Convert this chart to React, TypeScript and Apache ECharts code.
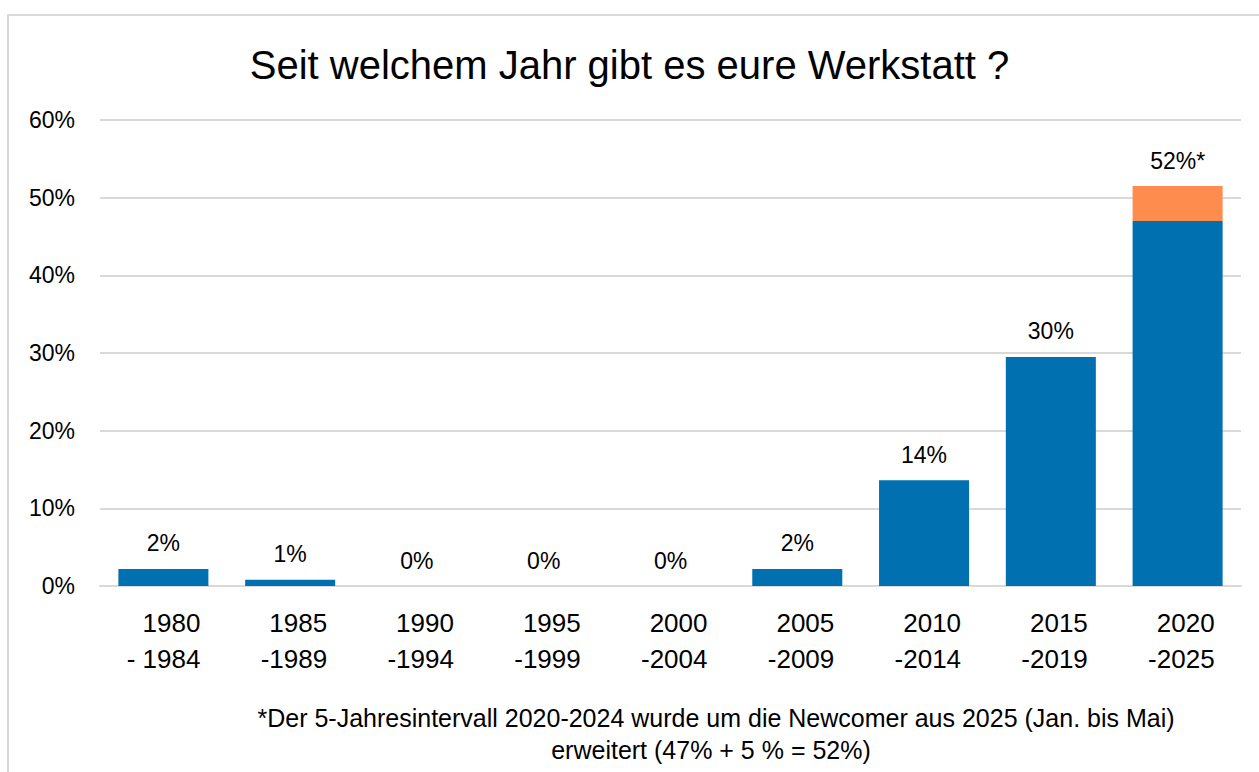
import React, { useEffect, useRef } from "react";
import * as echarts from "echarts";

const categories = [
  "1980\n- 1984",
  "1985\n-1989",
  "1990\n-1994",
  "1995\n-1999",
  "2000\n-2004",
  "2005\n-2009",
  "2010\n-2014",
  "2015\n-2019",
  "2020\n-2025",
];
const baseValues = [2.2, 0.8, 0, 0, 0, 2.2, 13.6, 29.5, 47];
const extraValues = [null, null, null, null, null, null, null, null, 4.5];
const baseLabels = ["2%", "1%", "0%", "0%", "0%", "2%", "14%", "30%", ""];
const extraLabels = ["", "", "", "", "", "", "", "", "52%*"];
const yTicks = [0, 10, 20, 30, 40, 50, 60];

const title = "Seit welchem Jahr gibt es eure Werkstatt ?";
const footnote1 = "*Der 5-Jahresintervall 2020-2024 wurde um die Newcomer aus 2025 (Jan. bis Mai)";
const footnote2 = "erweitert (47% + 5 % = 52%)";

const FONT = "'Liberation Sans', Arial, sans-serif";

export default function App() {
  const ref = useRef<HTMLDivElement>(null);
  useEffect(() => {
    if (!ref.current) return;
    const chart = echarts.init(ref.current, null, { renderer: "svg" });
    chart.setOption({
      animation: false,
      backgroundColor: "#ffffff",
      title: {
        text: title,
        left: "center",
        top: 40,
        textStyle: { fontFamily: FONT, fontSize: 40, fontWeight: "normal", color: "#000" },
      },
      grid: { left: 100, right: 18, top: 120, bottom: 186, containLabel: false },
      xAxis: {
        type: "category",
        data: categories,
        axisLine: { show: true, lineStyle: { color: "#d9d9d9", width: 2 } },
        axisTick: { show: false },
        axisLabel: {
          fontFamily: FONT,
          fontSize: 26,
          color: "#000",
          align: "right",
          lineHeight: 36,
          margin: 19,
          padding: [0, -37, 0, 0],
          interval: 0,
        },
      },
      yAxis: {
        type: "value",
        min: 0,
        max: 60,
        interval: 10,
        axisLine: { show: false },
        axisTick: { show: false },
        splitLine: { lineStyle: { color: "#d9d9d9", width: 2 } },
        axisLabel: {
          fontFamily: FONT,
          fontSize: 23,
          color: "#000",
          margin: 25,
          formatter: (v: number) => (yTicks.includes(v) ? v + "%" : ""),
        },
      },
      series: [
        {
          type: "bar",
          stack: "a",
          data: baseValues,
          barCategoryGap: "29%",
          itemStyle: { color: "#0070B0" },
          label: {
            show: true,
            position: "top",
            distance: 14,
            fontFamily: FONT,
            fontSize: 23,
            color: "#000",
            formatter: (p: any) => baseLabels[p.dataIndex],
          },
        },
        {
          type: "bar",
          stack: "a",
          data: extraValues,
          itemStyle: { color: "#FF8C4F" },
          label: {
            show: true,
            position: "top",
            distance: 14,
            fontFamily: FONT,
            fontSize: 23,
            color: "#000",
            formatter: (p: any) => extraLabels[p.dataIndex],
          },
        },
      ],
      graphic: [
        {
          type: "rect",
          shape: { x: 8, y: 15, width: 1280, height: 800 },
          style: { fill: "none", stroke: "#d9d9d9", lineWidth: 2 },
          silent: true,
        },
        {
          type: "text",
          x: 716,
          y: 718,
          style: {
            text: footnote1,
            fontFamily: FONT,
            fontSize: 25,
            fill: "#000",
            align: "center",
            verticalAlign: "middle",
          },
        },
        {
          type: "text",
          x: 711,
          y: 750,
          style: {
            text: footnote2,
            fontFamily: FONT,
            fontSize: 25,
            fill: "#000",
            align: "center",
            verticalAlign: "middle",
          },
        },
      ],
    });
    return () => chart.dispose();
  }, []);
  return (
    <div
      ref={ref}
      style={{ position: "absolute", left: 0, top: 0, width: 1259, height: 772 }}
    />
  );
}
